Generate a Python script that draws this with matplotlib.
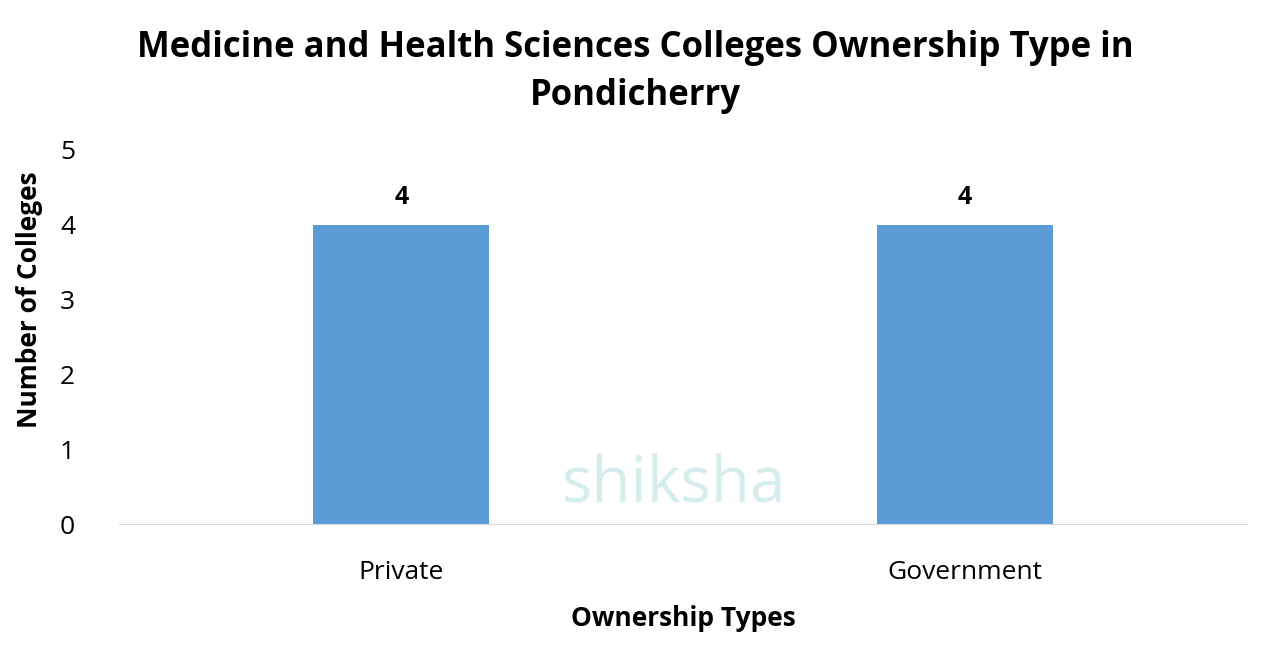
import matplotlib
matplotlib.use("Agg")
import matplotlib.pyplot as plt

categories = ["Private", "Government"]
values = [4, 4]
yticks = [0, 1, 2, 3, 4, 5]

plt.rcParams['font.family'] = ['Open Sans', 'DejaVu Sans']
fig = plt.figure(figsize=(12.71, 6.6), dpi=100)
ax = fig.add_axes([0.094, 0.206, 0.887, 0.567])
x = list(range(len(categories)))
bars = ax.bar(x, values, width=0.312, color="#5B9BD5")
for xi, v in zip(x, values):
    ax.text(xi, v + 0.2, str(v), ha="center", va="bottom", fontsize=18, fontweight="bold")
ax.set_xlim(-0.5, 1.5)
ax.set_ylim(0, 5)
ax.set_yticks(yticks)
ax.set_xticks(x)
ax.set_xticklabels(categories)
ax.tick_params(axis="both", length=0, labelsize=19)
ax.tick_params(axis="x", pad=26)
ax.tick_params(axis="y", pad=32)
for s in ["top", "right", "left"]:
    ax.spines[s].set_visible(False)
ax.spines["bottom"].set_color("#D9D9D9")
ax.set_xlabel("Ownership Types", fontsize=19, fontweight="bold", labelpad=14)
ax.set_ylabel("Number of Colleges", fontsize=19, fontweight="bold")
ax.yaxis.set_label_coords(-0.068, 0.60)
fig.suptitle("Medicine and Health Sciences Colleges Ownership Type in\nPondicherry",
             x=0.5, y=0.955, fontsize=25, fontweight="bold", linespacing=1.45)
fig.text(0.53, 0.24, "shiksha", fontsize=46, color="#5FB8B8", alpha=0.25, ha="center")
fig.savefig("out.png", dpi=100)
